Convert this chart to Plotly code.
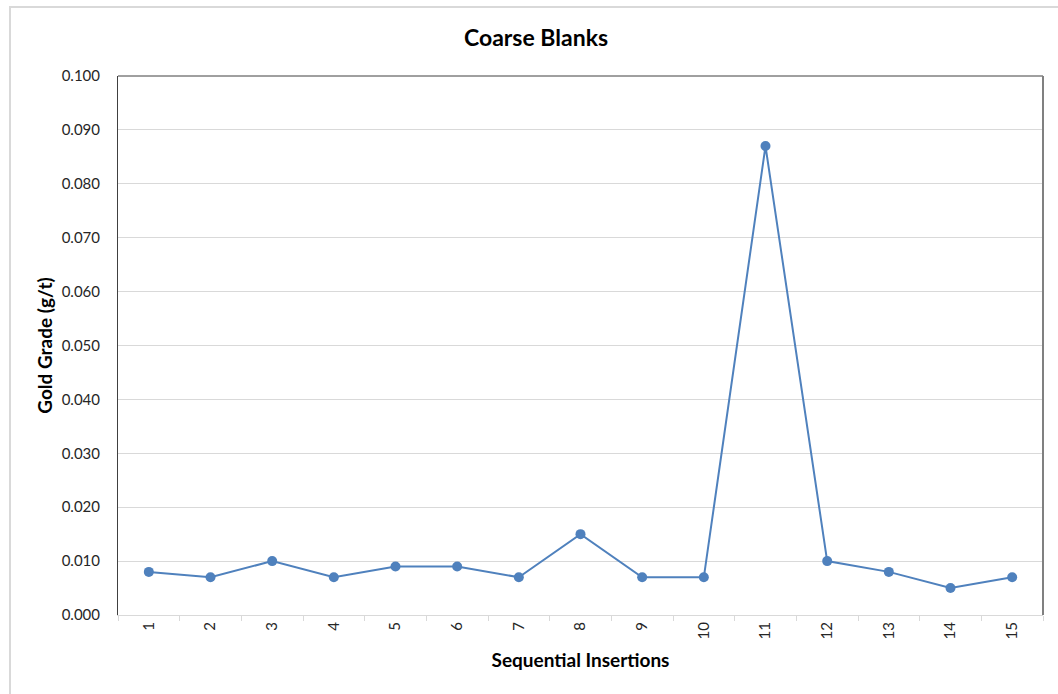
import plotly.graph_objects as go

categories = [str(i) for i in range(1, 16)]
gold_grade = [0.008, 0.007, 0.010, 0.007, 0.009, 0.009, 0.007, 0.015,
              0.007, 0.007, 0.087, 0.010, 0.008, 0.005, 0.007]
y_ticks = [0.0, 0.01, 0.02, 0.03, 0.04, 0.05, 0.06, 0.07, 0.08, 0.09, 0.1]

FONT = "Lato"
W, H = 1058, 694
L, R, T, B = 118, 15, 76, 79
pw, ph = W - L - R, H - T - B

def px_x(x):
    return (x - L) / pw

def px_y(y):
    return (H - B - y) / ph

fig = go.Figure()
fig.add_trace(go.Scatter(
    x=categories, y=gold_grade, mode="lines+markers",
    line=dict(color="#4F81BD", width=2),
    marker=dict(color="#4F81BD", size=10),
    showlegend=False, hoverinfo="x+y",
))

fig.update_layout(
    width=W, height=H,
    margin=dict(l=L, r=R, t=T, b=B),
    paper_bgcolor="white", plot_bgcolor="white",
    font=dict(family=FONT, color="#262626", size=15),
    title=dict(text="<b>Coarse Blanks</b>", x=px_x(536), xref="paper", xanchor="center",
               y=1 - 38 / H, yanchor="middle",
               font=dict(family=FONT, size=23, color="#000000")),
    xaxis=dict(
        type="category", range=[-0.5, len(categories) - 0.5],
        tickangle=-90, tickson="boundaries",
        ticks="outside", ticklen=5, tickcolor="#d9d9d9", tickwidth=1,
        showline=True, linecolor="#d9d9d9", linewidth=1,
        showgrid=False, zeroline=False,
        tickfont=dict(family=FONT, size=15, color="#262626"),
        title=dict(text="<b>Sequential Insertions</b>", standoff=15,
                   font=dict(family=FONT, size=19, color="#000000")),
    ),
    yaxis=dict(
        range=[0, 0.1], tickvals=y_ticks, tickformat=".3f",
        showgrid=True, gridcolor="#d9d9d9", gridwidth=1,
        zeroline=False, showline=True, linecolor="#404040", linewidth=1,
        ticks="", ticklabelstandoff=14,
        tickfont=dict(family=FONT, size=15, color="#262626"),
        title=dict(text="<b>Gold Grade (g/t)</b>", standoff=4,
                   font=dict(family=FONT, size=19, color="#000000")),
    ),
    shapes=[
        # outer chart border
        dict(type="rect", xref="paper", yref="paper",
             x0=px_x(10), x1=px_x(1070), y0=px_y(710), y1=px_y(7),
             line=dict(color="#d9d9d9", width=2), layer="below"),
        # top border of plot area
        dict(type="line", xref="paper", yref="paper", x0=0, x1=1, y0=1, y1=1,
             line=dict(color="#404040", width=1)),
        # right border of plot area
        dict(type="line", xref="paper", yref="paper", x0=1, x1=1, y0=0, y1=1,
             line=dict(color="#808080", width=2)),
    ],
)

fig.write_html("out.html")
